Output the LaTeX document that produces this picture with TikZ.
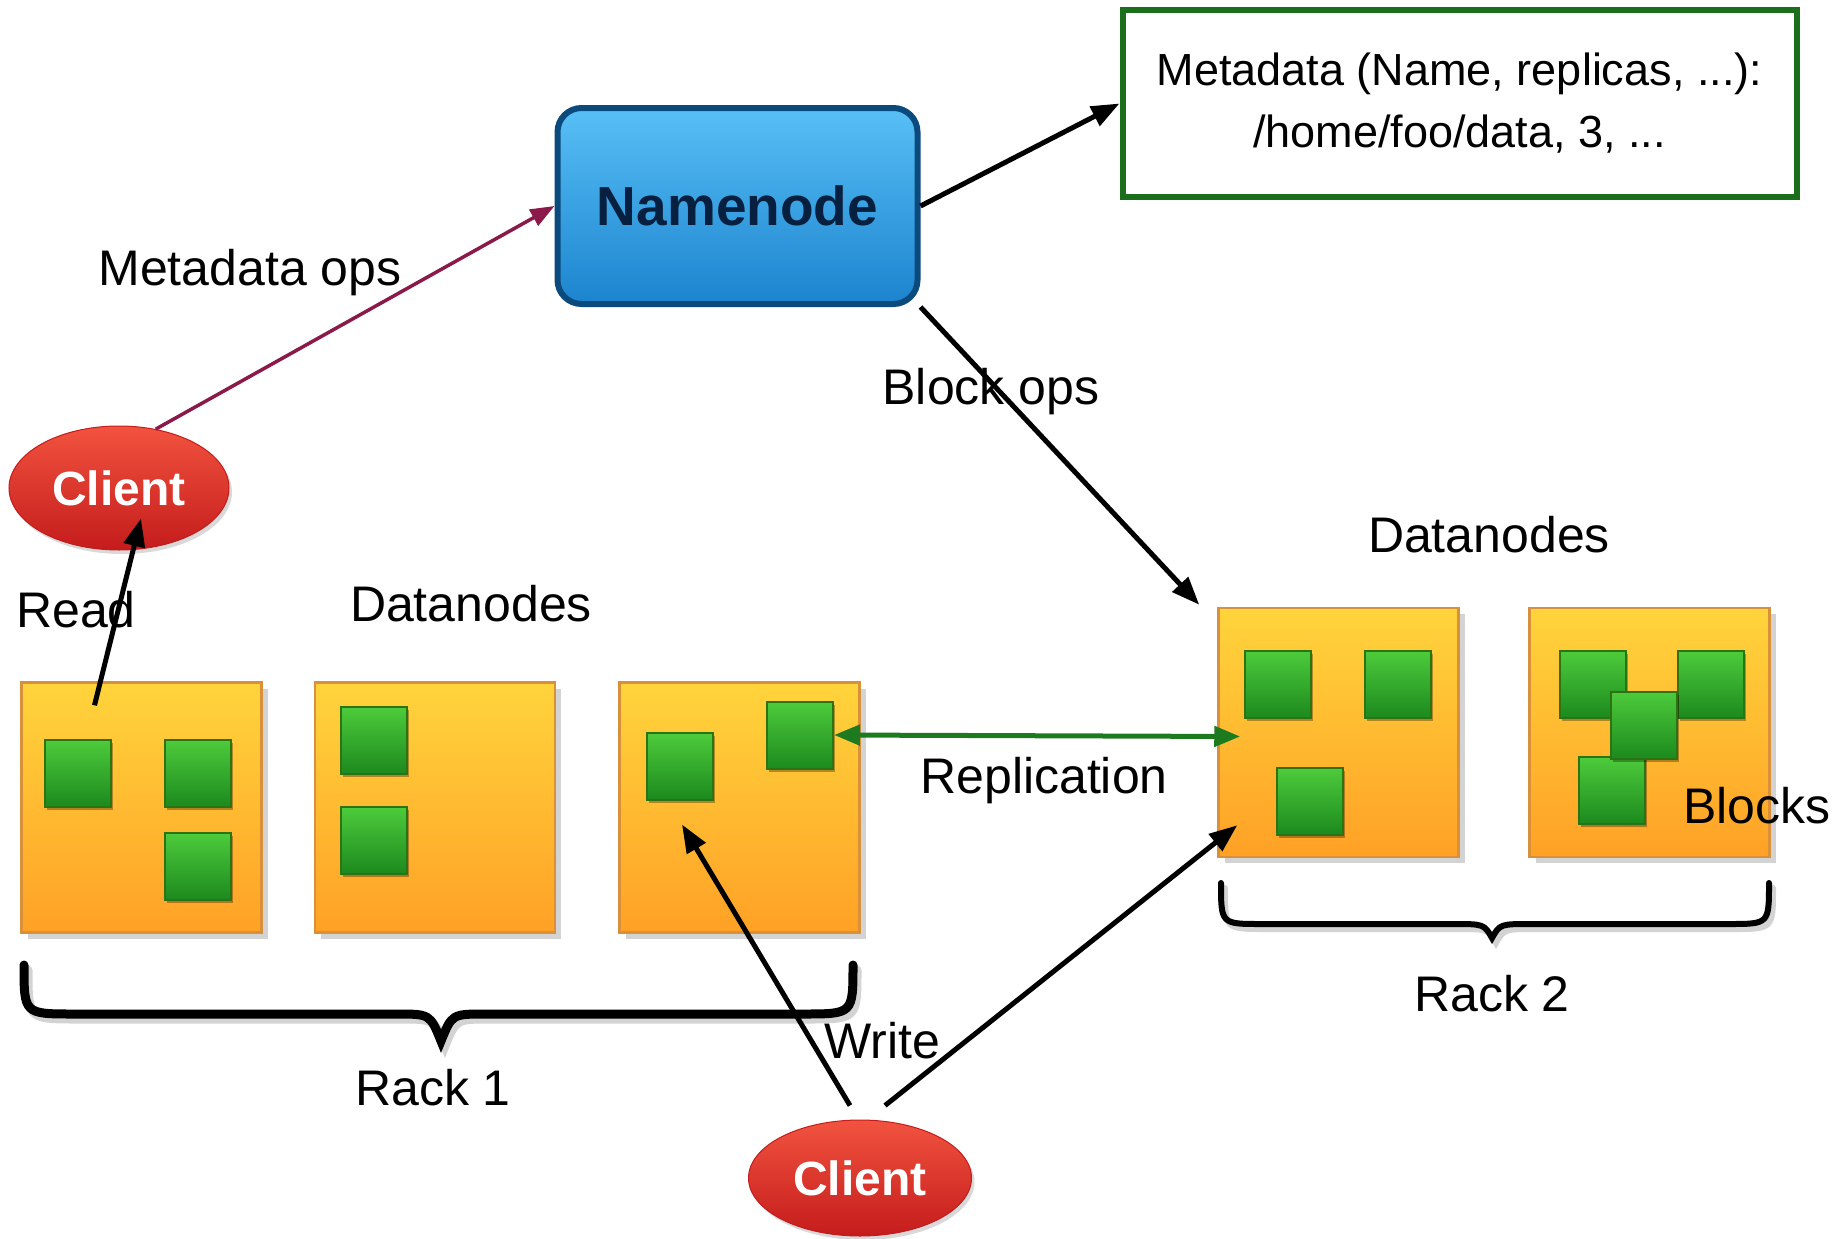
\documentclass[tikz,border=0pt]{standalone}
\usepackage{fontspec}
\setmainfont{Liberation Sans}
\usetikzlibrary{arrows.meta,shadows,calc,shapes.geometric}
\definecolor{nnedge}{HTML}{0B4A7C}
\definecolor{nntop}{HTML}{58BFF6}
\definecolor{nnbot}{HTML}{1C84CE}
\definecolor{nntext}{HTML}{08203F}
\definecolor{metagreen}{HTML}{1B6E1B}
\definecolor{dnedge}{HTML}{D8913A}
\definecolor{dntop}{HTML}{FFD43C}
\definecolor{dnbot}{HTML}{FFA126}
\definecolor{blkedge}{HTML}{2C7412}
\definecolor{blktop}{HTML}{4ECB3C}
\definecolor{blkbot}{HTML}{1C8A1E}
\definecolor{cltop}{HTML}{F2533F}
\definecolor{clbot}{HTML}{C41C1C}
\definecolor{mdops}{HTML}{8B1A4A}
\definecolor{repl}{HTML}{1E7A1E}
\begin{document}
\begin{tikzpicture}[x=1pt,y=-1pt,
  lbl/.style={font=\fontsize{50}{56}\selectfont, text=black, inner sep=0pt},
  dnbox/.style={draw=dnedge, line width=2.5pt, top color=dntop, bottom color=dnbot,
    minimum width=240pt, minimum height=250pt, inner sep=0pt,
    drop shadow={shadow xshift=6pt, shadow yshift=-6pt, opacity=0.35, fill=gray}},
  blk/.style={draw=blkedge, line width=2pt, top color=blktop, bottom color=blkbot,
    minimum width=66pt, minimum height=67pt, inner sep=0pt,
    drop shadow={shadow xshift=2pt, shadow yshift=-3pt, opacity=0.3, fill=black}},
  client/.style={ellipse, top color=cltop, bottom color=clbot, draw=clbot, line width=1pt,
    inner sep=0pt, text=white, font=\bfseries\fontsize{48}{52}\selectfont,
    drop shadow={shadow xshift=3pt, shadow yshift=-4pt, opacity=0.3, fill=gray}},
  arr/.style={-{Triangle[length=28pt,width=21pt]}, line width=5pt, black},
  bracestyle/.style={line width=9pt, line cap=round, black},
  braceshadow/.style={line width=9pt, line cap=round, gray, opacity=0.35},
]
\useasboundingbox (0,0) rectangle (1845,1239);

% Namenode and metadata
\node[draw=nnedge, line width=6pt, rounded corners=24pt, top color=nntop, bottom color=nnbot,
  minimum width=360pt, minimum height=196pt, inner sep=0pt,
  text=nntext, font=\bfseries\fontsize{55}{60}\selectfont] (nn) at (737.5,206) {Namenode};
\node[draw=metagreen, line width=6pt, fill=white, minimum width=674pt, minimum height=186pt,
  inner sep=0pt, align=center, font=\fontsize{45}{62}\selectfont] (meta) at (1459.5,103.5)
  {Metadata (Name, replicas, ...):\\/home/foo/data, 3, ...};

% Clients
\node[client, minimum width=220pt, minimum height=124pt] (c1) at (119,488) {Client};
\node[client, minimum width=223pt, minimum height=116pt] (c2) at (860,1178) {Client};

% Datanodes rack 1
\node[dnbox] (dn1) at (141.5,807.5) {};
\node[dnbox] (dn2) at (435,807.5) {};
\node[dnbox] (dn3) at (739.5,807.5) {};
% Datanodes rack 2
\node[dnbox, minimum height=249pt] (dn4) at (1338.5,732.5) {};
\node[dnbox, minimum height=249pt] (dn5) at (1649.5,732.5) {};

% Blocks
\node[blk] (b11) at (78,773) {};
\node[blk] (b12) at (198,773) {};
\node[blk] (b13) at (198,866) {};
\node[blk] (b21) at (374,740) {};
\node[blk] (b22) at (374,840) {};
\node[blk] (b31) at (680,766) {};
\node[blk] (b32) at (800,735) {};
\node[blk] (b41) at (1278,684) {};
\node[blk] (b42) at (1398,684) {};
\node[blk] (b43) at (1310,801) {};
\node[blk] (b51) at (1593,684) {};
\node[blk] (b52) at (1711,684) {};
\node[blk] (b54) at (1612,790) {};
\node[blk] (b53) at (1644,725) {};

% Labels
\node[lbl] (lmo) at (250,273) {Metadata ops};
\node[lbl] (lread) at (76,610) {Read};
\node[lbl] (ldn1) at (471,604) {Datanodes};
\node[lbl] (ldn2) at (1489,535) {Datanodes};
\node[lbl] (lbo) at (991,392) {Block ops};
\node[lbl] (lrep) at (1044,781) {Replication};
\node[lbl] (lblk) at (1757,806) {Blocks};
\node[lbl] (lwr) at (882,1041) {Write};
\node[lbl] (lr1) at (433,1088) {Rack 1};
\node[lbl] (lr2) at (1492,994) {Rack 2};

% Braces
\foreach \st/\dx/\dy in {braceshadow/4/5, bracestyle/0/0}{
  \begin{scope}[shift={(\dx,\dy)}]
  \draw[\st] (24,965) .. controls (24,1014) .. (74,1014) -- (396,1014)
    .. controls (430,1014) .. (441,1041) .. controls (452,1014) .. (486,1014)
    -- (803,1014) .. controls (853,1014) .. (853,965);
  \draw[\st, line width=6pt] (1221,883) .. controls (1221,924) .. (1261,924) -- (1452,924)
    .. controls (1484,924) .. (1492,938) .. controls (1500,924) .. (1532,924)
    -- (1729,924) .. controls (1769,924) .. (1769,883);
  \end{scope}
}

% Connectors
\draw[-{Triangle[length=24pt,width=18pt]}, line width=3.5pt, mdops] (c1.58) -- (nn.west);
\draw[arr] (nn.east) -- (meta.west);
\draw[arr] (nn.south east) -- ($(dn4.north west)+(-18,-2)$);
\draw[{Triangle[length=26pt,width=20pt]}-{Triangle[length=26pt,width=20pt]}, line width=5pt, repl]
  (b32.east) -- ($(dn4.west)+(23,4)$);
\draw[arr] ($(dn1.north)+(-47,24)$) -- ($(c1.south)+(22,-32)$);
\draw[arr] ($(c2.north)+(-10,-14)$) -- ($(b31.south)+(2,24)$);
\draw[arr] ($(c2.north)+(25,-14)$) -- ($(dn4.south west)+(20,-33)$);
\end{tikzpicture}
\end{document}
